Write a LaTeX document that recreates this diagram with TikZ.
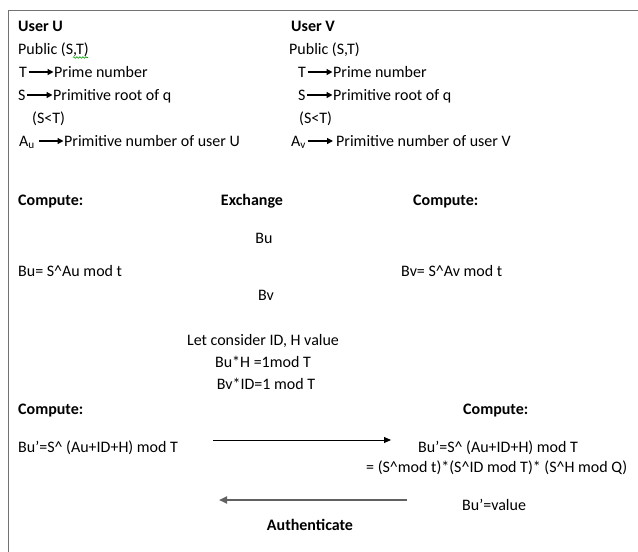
\documentclass[tikz,border=0pt]{standalone}
\usepackage{fontspec}
\setmainfont{Carlito}
\usetikzlibrary{arrows.meta,decorations.pathmorphing}
\tikzset{
  txt/.style={inner sep=0pt, anchor=base west, text height=12pt, text depth=2pt, font=\fontsize{16}{19}\selectfont},
  ctxt/.style={txt, anchor=base},
  hd/.style={txt, font=\fontsize{16}{19}\selectfont\bfseries},
  chd/.style={hd, anchor=base},
  sarr/.style={-{Triangle[length=6pt,width=6pt]}, line width=1.3pt, shorten <=1.5pt, shorten >=0.5pt},
  larr/.style={-{Triangle[length=7pt,width=6pt]}, line width=0.9pt, black},
  garr/.style={-{Triangle[length=8pt,width=7pt]}, line width=2.4pt, black!62},
  frame/.style={line width=1.6pt, black!55}
}
\begin{document}
\begin{tikzpicture}[x=1pt,y=-1pt]
\useasboundingbox (0,0) rectangle (638,552);
\fill[white] (0,0) rectangle (638,552);
% frame
\draw[frame] (8.5,552) -- (8.5,10.5) -- (638,10.5);

% user U
\node[hd] (uU) at (18,31) {User U};
\node[txt] (pubU) at (18,54) {Public (S,T)};
\draw[green!60!black, line width=0.6pt, decorate, decoration={snake, amplitude=0.8pt, segment length=3pt}] (73,57.5) -- (88,57.5);
\node[txt] (tU) at (19,77) {T};
\node[txt] (primeU) at (54,77) {Prime number};
\draw[sarr] (tU.east) -- (primeU.west);
\node[txt] (sU) at (18,100) {S};
\node[txt] (rootU) at (53,100) {Primitive root of q};
\draw[sarr] (sU.east) -- (rootU.west);
\node[txt] (sltU) at (32,123) {(S<T)};
\node[txt] (aU) at (19,146) {A\textsubscript{u}};
\node[txt] (numU) at (64,146) {Primitive number of user U};
\draw[sarr, shorten <=4pt] (aU.east) -- (numU.west);

% user V
\node[hd] (uV) at (291,31) {User V};
\node[txt] (pubV) at (289,54) {Public (S,T)};
\node[txt] (tV) at (298,77) {T};
\node[txt] (primeV) at (333,77) {Prime number};
\draw[sarr] (tV.east) -- (primeV.west);
\node[txt] (sV) at (298,100) {S};
\node[txt] (rootV) at (333,100) {Primitive root of q};
\draw[sarr] (sV.east) -- (rootV.west);
\node[txt] (sltV) at (299,123) {(S<T)};
\node[txt] (aV) at (291,146) {A\textsubscript{v}};
\node[txt] (numV) at (336,146) {Primitive number of user V};
\draw[sarr, shorten >=3pt] (aV.east) -- (numV.west);

% exchange
\node[hd] (comp1) at (18,205) {Compute:};
\node[chd] (exch) at (252,205) {Exchange};
\node[hd] (comp2) at (413,205) {Compute:};
\node[ctxt] (bu) at (264,243) {Bu};
\node[txt] (buL) at (18,276) {Bu= S\textasciicircum Au mod t};
\node[txt] (bvR) at (401,276) {Bv= S\textasciicircum Av mod t};
\node[ctxt] (bv) at (266,300) {Bv};

\node[ctxt] (let) at (263,345) {Let consider ID, H value};
\node[ctxt] (buh) at (263,367) {Bu*H =1mod T};
\node[ctxt] (bvid) at (266,389) {Bv*ID=1 mod T};

\node[hd] (comp3) at (18,414) {Compute:};
\node[hd] (comp4) at (463,414) {Compute:};
\node[txt] (bupL) at (18,452) {Bu’=S\textasciicircum\ (Au+ID+H) mod T};
\node[txt] (bupR) at (418,452) {Bu’=S\textasciicircum\ (Au+ID+H) mod T};
\node[txt] (eq) at (366,472) {= (S\textasciicircum mod t)*(S\textasciicircum ID mod T)* (S\textasciicircum H mod Q)};
\coordinate (r1) at (213,440);
\coordinate (r2) at (391,440);
\draw[larr] (r1) -- (r2);
\coordinate (l1) at (407,500);
\coordinate (l2) at (219,500);
\draw[garr] (l1) -- (l2);
\node[txt] (val) at (462,510) {Bu’=value};
\node[chd] (auth) at (310,530) {Authenticate};
\end{tikzpicture}
\end{document}
